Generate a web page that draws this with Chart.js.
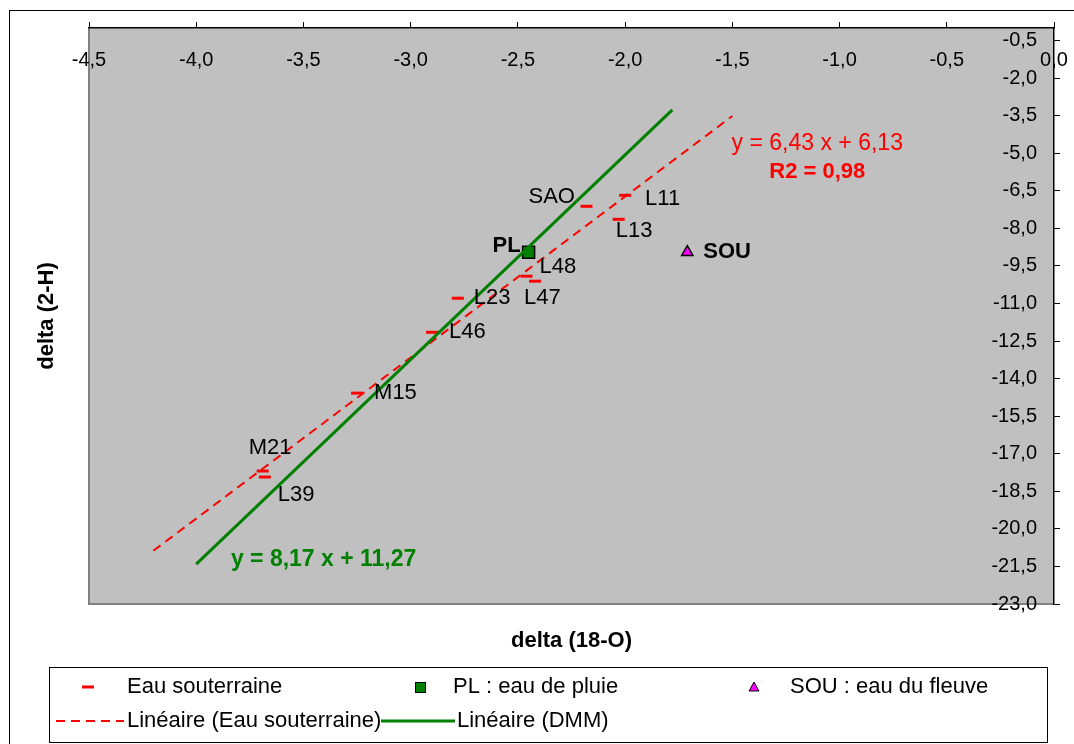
<!DOCTYPE html>
<html>
<head>
<meta charset="utf-8">
<script src="https://cdn.jsdelivr.net/npm/chart.js@4"></script>
<style>
  html, body { margin: 0; padding: 0; background: #fff; }
  #wrap { position: relative; width: 1074px; height: 744px; }
</style>
</head>
<body>
<div id="wrap"><canvas id="chart" width="1074" height="744"></canvas></div>
<script>
// groundwater samples (delta 18-O, delta 2-H)
const sampleNames = ['SAO', 'L11', 'L13', 'L48', 'L47', 'L23', 'L46', 'M15', 'M21', 'L39'];
const sampleX = [-2.18, -2.00, -2.03, -2.46, -2.42, -2.78, -2.90, -3.25, -3.69, -3.68];
const sampleY = [-7.12, -6.68, -7.64, -9.91, -10.11, -10.79, -12.15, -14.58, -17.69, -17.93];

// rain and river
const rainX = [-2.45];
const rainY = [-8.95];
const riverX = [-1.71];
const riverY = [-8.95];

// trend lines
const trendSlope = 6.43;
const trendIntercept = 6.13;
const trendRange = [-4.2, -1.5];
const dmmSlope = 8.17;
const dmmIntercept = 11.27;
const dmmRange = [-4.0, -1.78];

// axes
const xTicks = [-4.5, -4.0, -3.5, -3.0, -2.5, -2.0, -1.5, -1.0, -0.5, 0.0];
const yTicks = [-23.0, -21.5, -20.0, -18.5, -17.0, -15.5, -14.0, -12.5, -11.0, -9.5, -8.0, -6.5, -5.0, -3.5, -2.0, -0.5];

const FONT = '"Liberation Sans", Arial, sans-serif';
const RED = '#FF0000';
const GREEN = '#008000';
const MAGENTA = '#FF00FF';

const fmt = v => v.toFixed(1).replace('.', ',');
const toPts = (xs, ys) => xs.map((x, i) => ({ x: x, y: ys[i] }));
const linePts = (range, a, b) => range.map(x => ({ x: x, y: a * x + b }));

// where the sample names sit relative to their mark (pixels)
const labelOffsets = {
    SAO: [-58, -9], L11: [20, 4], L13: [-3, 12], L48: [13, -9], L47: [-11, 17],
    L23: [16, 0], L46: [17, 0], M15: [17, 0], M21: [-14, -23], L39: [13, 18]
};

const framePlugin = {
    id: 'frame',
    beforeDraw(chart) {
        const ctx = chart.ctx;
        const a = chart.chartArea;
        ctx.save();
        ctx.fillStyle = '#fff';
        ctx.fillRect(0, 0, chart.width, chart.height);
        // outer border
        ctx.strokeStyle = '#000';
        ctx.lineWidth = 1;
        ctx.strokeRect(9.5, 10.5, 1100, 800);
        // plot area
        ctx.fillStyle = '#C0C0C0';
        ctx.fillRect(a.left, a.top, a.right - a.left, a.bottom - a.top);
        ctx.strokeStyle = '#808080';
        ctx.lineWidth = 2;
        ctx.beginPath();
        ctx.moveTo(a.left, a.top);
        ctx.lineTo(a.left, a.bottom);
        ctx.lineTo(a.right, a.bottom);
        ctx.stroke();
        ctx.restore();
    },
    afterDatasetsDraw(chart) {
        const ctx = chart.ctx;
        const xs = chart.scales.x, ys = chart.scales.y;
        ctx.save();
        ctx.fillStyle = '#000';
        ctx.textBaseline = 'middle';
        ctx.textAlign = 'left';
        ctx.font = '22px ' + FONT;
        sampleNames.forEach((n, i) => {
            const off = labelOffsets[n];
            ctx.fillText(n, xs.getPixelForValue(sampleX[i]) + off[0], ys.getPixelForValue(sampleY[i]) + off[1]);
        });
        ctx.font = 'bold 22px ' + FONT;
        ctx.textAlign = 'right';
        ctx.fillText('PL', xs.getPixelForValue(rainX[0]) - 8, ys.getPixelForValue(rainY[0]) - 6);
        ctx.textAlign = 'left';
        ctx.fillText('SOU', xs.getPixelForValue(riverX[0]) + 16, ys.getPixelForValue(riverY[0]));

        // equations
        ctx.textAlign = 'center';
        ctx.fillStyle = RED;
        ctx.font = '23px ' + FONT;
        ctx.fillText('y = 6,43 x + 6,13', xs.getPixelForValue(-1.104), ys.getPixelForValue(-4.61));
        ctx.font = 'bold 22px ' + FONT;
        ctx.fillText('R2 = 0,98', xs.getPixelForValue(-1.104), ys.getPixelForValue(-5.76));
        ctx.fillStyle = GREEN;
        ctx.font = 'bold 23px ' + FONT;
        ctx.fillText('y = 8,17 x + 11,27', xs.getPixelForValue(-3.406), ys.getPixelForValue(-21.24));
        ctx.restore();
    },
    afterDraw(chart) {
        const ctx = chart.ctx;
        const a = chart.chartArea;
        const xs = chart.scales.x, ys = chart.scales.y;
        ctx.save();
        // tick labels drawn inside the plot, next to the top and right axes
        ctx.fillStyle = '#000';
        ctx.font = '20px ' + FONT;
        ctx.textAlign = 'center';
        ctx.textBaseline = 'middle';
        xTicks.forEach(v => ctx.fillText(fmt(v), xs.getPixelForValue(v), a.top + 32));
        ctx.textAlign = 'right';
        yTicks.forEach(v => ctx.fillText(fmt(v), a.right - 17, ys.getPixelForValue(v)));

        // axis titles
        ctx.textAlign = 'center';
        ctx.font = 'bold 22px ' + FONT;
        ctx.fillText('delta (18-O)', (a.left + a.right) / 2, 641);
        ctx.save();
        ctx.translate(47, (a.top + a.bottom) / 2);
        ctx.rotate(-Math.PI / 2);
        ctx.fillText('delta (2-H)', 0, 0);
        ctx.restore();

        // legend
        ctx.fillStyle = '#fff';
        ctx.fillRect(49.5, 667.5, 998, 75);
        ctx.strokeStyle = '#000';
        ctx.lineWidth = 1;
        ctx.strokeRect(49.5, 667.5, 998, 75);
        const r1 = 687, r2 = 721;
        ctx.font = '22px ' + FONT;
        ctx.textAlign = 'left';
        ctx.fillStyle = '#000';
        ctx.fillText('Eau souterraine', 127, r1);
        ctx.fillText('PL : eau de pluie', 453, r1);
        ctx.fillText('SOU : eau du fleuve', 790, r1);
        ctx.fillText('Linéaire (Eau souterraine)', 127, r2);
        ctx.fillText('Linéaire (DMM)', 457, r2);

        ctx.strokeStyle = RED;
        ctx.lineWidth = 3;
        ctx.beginPath();
        ctx.moveTo(82, r1); ctx.lineTo(94, r1);
        ctx.stroke();

        ctx.fillStyle = GREEN;
        ctx.strokeStyle = '#000';
        ctx.lineWidth = 1;
        ctx.fillRect(415, r1 - 5, 10, 10);
        ctx.strokeRect(415.5, r1 - 4.5, 10, 10);

        ctx.fillStyle = MAGENTA;
        ctx.beginPath();
        ctx.moveTo(754, r1 - 5);
        ctx.lineTo(759, r1 + 4);
        ctx.lineTo(749, r1 + 4);
        ctx.closePath();
        ctx.fill();
        ctx.stroke();

        ctx.strokeStyle = RED;
        ctx.lineWidth = 2;
        ctx.setLineDash([9, 6]);
        ctx.beginPath();
        ctx.moveTo(56, r2); ctx.lineTo(124, r2);
        ctx.stroke();
        ctx.setLineDash([]);
        ctx.strokeStyle = GREEN;
        ctx.lineWidth = 3;
        ctx.beginPath();
        ctx.moveTo(381, r2); ctx.lineTo(455, r2);
        ctx.stroke();
        ctx.restore();
    }
};

const ctx = document.getElementById('chart').getContext('2d');
new Chart(ctx, {
    type: 'scatter',
    data: {
        datasets: [
            {
                label: 'Linéaire (DMM)',
                data: linePts(dmmRange, dmmSlope, dmmIntercept),
                showLine: true,
                borderColor: GREEN,
                borderWidth: 3,
                pointRadius: 0
            },
            {
                label: 'Linéaire (Eau souterraine)',
                data: linePts(trendRange, trendSlope, trendIntercept),
                showLine: true,
                borderColor: RED,
                borderWidth: 2,
                borderDash: [9, 6],
                pointRadius: 0
            },
            {
                label: 'Eau souterraine',
                data: toPts(sampleX, sampleY),
                pointStyle: 'line',
                pointRadius: 6,
                pointBorderWidth: 3,
                pointBorderColor: RED,
                pointBackgroundColor: RED
            },
            {
                label: 'PL : eau de pluie',
                data: toPts(rainX, rainY),
                pointStyle: 'rect',
                pointRadius: 8.5,
                pointBorderWidth: 1.5,
                pointBorderColor: '#000',
                pointBackgroundColor: GREEN
            },
            {
                label: 'SOU : eau du fleuve',
                data: toPts(riverX, riverY),
                pointStyle: 'triangle',
                pointRadius: 6.5,
                pointBorderWidth: 1.5,
                pointBorderColor: '#000',
                pointBackgroundColor: MAGENTA
            }
        ]
    },
    options: {
        responsive: false,
        animation: false,
        layout: { padding: { left: 89, top: 22, right: 14, bottom: 140 } },
        plugins: {
            legend: { display: false },
            tooltip: { enabled: false }
        },
        scales: {
            x: {
                type: 'linear',
                position: 'top',
                min: -4.5,
                max: 0,
                afterBuildTicks: s => { s.ticks = xTicks.map(v => ({ value: v })); },
                ticks: { display: false },
                grid: { display: true, drawOnChartArea: false, drawTicks: true, tickLength: 6, color: '#000' },
                border: { display: true, color: '#000', width: 1.5 }
            },
            y: {
                type: 'linear',
                position: 'right',
                min: -23,
                max: 0,
                afterBuildTicks: s => { s.ticks = yTicks.map(v => ({ value: v })); },
                ticks: { display: false },
                grid: { display: true, drawOnChartArea: false, drawTicks: true, tickLength: 6, color: '#000' },
                border: { display: true, color: '#000', width: 1.5 }
            }
        }
    },
    plugins: [framePlugin]
});
</script>
</body>
</html>
